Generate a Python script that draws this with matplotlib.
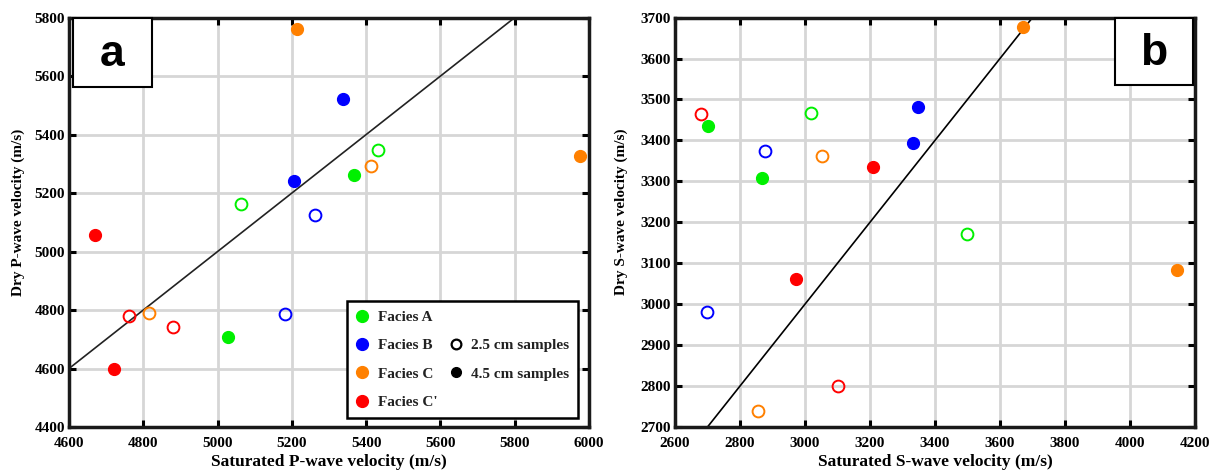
import matplotlib
matplotlib.use('Agg')
import matplotlib.pyplot as plt
from matplotlib.lines import Line2D
from matplotlib.patches import Rectangle

# Panel a: P-wave velocities (m/s)
p_sat_open = [5062, 5432, 5261, 5181, 5414, 4815, 4761, 4881]
p_dry_open = [5161, 5347, 5125, 4787, 5294, 4790, 4778, 4741]
p_open_facies = ['A', 'A', 'B', 'B', 'C', 'C', "C'", "C'"]

p_sat_fill = [5368, 5027, 5337, 5206, 5215, 5975, 4671, 4722]
p_dry_fill = [5262, 4707, 5522, 5242, 5760, 5325, 5055, 4597]
p_fill_facies = ['A', 'A', 'B', 'B', 'C', 'C', "C'", "C'"]

# Panel b: S-wave velocities (m/s)
s_sat_open = [3019, 3498, 2877, 2700, 3053, 2856, 2680, 3101]
s_dry_open = [3468, 3172, 3374, 2981, 3361, 2740, 3465, 2801]
s_open_facies = ['A', 'A', 'B', 'B', 'C', 'C', "C'", "C'"]

s_sat_fill = [2703, 2869, 3349, 3332, 3670, 4144, 3209, 2973]
s_dry_fill = [3435, 3308, 3482, 3394, 3676, 3084, 3336, 3062]
s_fill_facies = ['A', 'A', 'B', 'B', 'C', 'C', "C'", "C'"]

FACIES = ['A', 'B', 'C', "C'"]
COLORS = {'A': '#00f000', 'B': '#0000ff', 'C': '#ff8000', "C'": '#ff0000'}

plt.rcParams['font.family'] = 'Liberation Serif'
plt.rcParams['font.weight'] = 'bold'
plt.rcParams['axes.labelweight'] = 'bold'

fig = plt.figure(figsize=(12.19, 4.75), dpi=100)
ax1 = fig.add_axes([0.0566, 0.101, 0.4266, 0.862])
ax2 = fig.add_axes([0.5537, 0.101, 0.4266, 0.862])

MS = 8.5


def draw_points(ax, xo, yo, fo, xf, yf, ff):
    for x, y, f in zip(xo, yo, fo):
        ax.plot(x, y, 'o', ms=MS, mfc='none', mec=COLORS[f], mew=1.4, zorder=3)
    for x, y, f in zip(xf, yf, ff):
        ax.plot(x, y, 'o', ms=MS, mfc=COLORS[f], mec=COLORS[f], mew=1.0, zorder=3)


def style_axes(ax, xlim, ylim, xticks, yticks):
    ax.set_xlim(xlim)
    ax.set_ylim(ylim)
    ax.set_xticks(xticks)
    ax.set_yticks(yticks)
    ax.grid(True, color='#d6d6d6', linewidth=2.0)
    ax.set_axisbelow(True)
    ax.tick_params(direction='in', length=5, width=2.2, top=True, right=True,
                   labelsize=11, pad=3)
    ax.tick_params(axis='x', pad=7)
    for lbl in ax.get_xticklabels() + ax.get_yticklabels():
        lbl.set_fontweight('bold')
    for sp in ax.spines.values():
        sp.set_linewidth(2.5)
        sp.set_color('#1a1a1a')


def label_box(ax, x0, y0, x1, y1, letter):
    ax.add_patch(Rectangle((x0, y0), x1 - x0, y1 - y0, transform=ax.transAxes,
                           facecolor='white', edgecolor='black', linewidth=1.5,
                           zorder=5, clip_on=False))
    ax.text((x0 + x1) / 2, (y0 + y1) / 2 - 0.005, letter, transform=ax.transAxes,
            ha='center', va='center', fontsize=32, fontweight='bold',
            family='Liberation Sans', zorder=6)


# panel a
draw_points(ax1, p_sat_open, p_dry_open, p_open_facies, p_sat_fill, p_dry_fill, p_fill_facies)
ax1.plot([4400, 5800], [4400, 5800], color='#222222', lw=1.2, zorder=2)
style_axes(ax1, (4600, 6000), (4400, 5800), range(4600, 6001, 200), range(4400, 5801, 200))
ax1.set_xlabel('Saturated P-wave velocity (m/s)', fontsize=12.5, labelpad=3)
ax1.set_ylabel('Dry P-wave velocity (m/s)', fontsize=11)
ax1.yaxis.set_label_coords(-0.085, 0.525)
label_box(ax1, 0.007, 0.83, 0.159, 0.998, 'a')

blank = Line2D([], [], linestyle='none')
handles = [Line2D([], [], marker='o', linestyle='none', ms=MS, mfc=COLORS[f], mec=COLORS[f])
           for f in FACIES]
handles += [blank,
            Line2D([], [], marker='o', linestyle='none', ms=7, mfc='none', mec='black', mew=1.6),
            Line2D([], [], marker='o', linestyle='none', ms=7, mfc='black', mec='black'),
            blank]
labels = ['Facies ' + f for f in FACIES] + ['', '2.5 cm samples', '4.5 cm samples', '']
leg = ax1.legend(handles, labels, ncol=2, loc='lower right', bbox_to_anchor=(0.979, 0.022),
                 borderaxespad=0, fancybox=False, framealpha=1, edgecolor='black',
                 fontsize=11, handlelength=0.8, handletextpad=0.6, columnspacing=0.8,
                 labelspacing=0.95, borderpad=0.6)
leg.get_frame().set_linewidth(1.8)
leg.set_zorder(6)
for t in leg.get_texts():
    t.set_fontweight('bold')
    t.set_color('#222222')

# panel b
draw_points(ax2, s_sat_open, s_dry_open, s_open_facies, s_sat_fill, s_dry_fill, s_fill_facies)
ax2.plot([2700, 3700], [2700, 3700], color='black', lw=1.2, zorder=2)
style_axes(ax2, (2600, 4200), (2700, 3700), range(2600, 4201, 200), range(2700, 3701, 100))
ax2.set_xlabel('Saturated S-wave velocity (m/s)', fontsize=12.5, labelpad=3)
ax2.set_ylabel('Dry S-wave velocity (m/s)', fontsize=11)
ax2.yaxis.set_label_coords(-0.09, 0.525)
label_box(ax2, 0.846, 0.835, 0.996, 0.998, 'b')

fig.savefig('out.png', dpi=100)
